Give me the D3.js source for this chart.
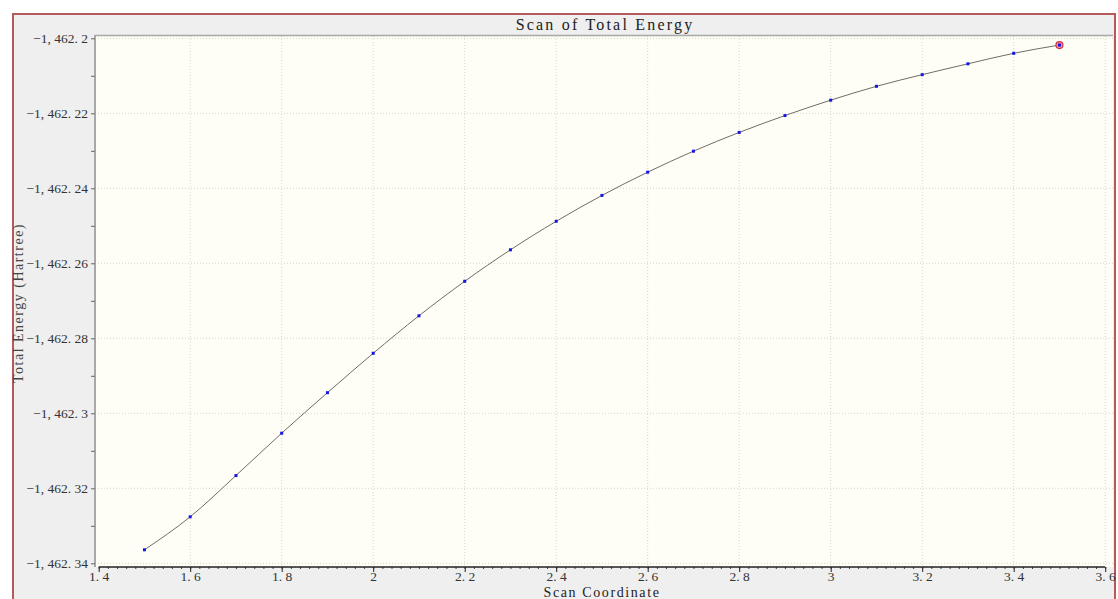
<!DOCTYPE html>
<html>
<head>
<meta charset="utf-8">
<script src="https://cdn.jsdelivr.net/npm/d3@7"></script>
<style>
body { margin: 0; background: #fff; }
svg { display: block; }
</style>
</head>
<body>
<div id="graph"></div>
<script>
// scan coordinate vs total energy (Hartree)
var scan_x = [1.5, 1.6, 1.7, 1.8, 1.9, 2.0, 2.1, 2.2, 2.3, 2.4, 2.5, 2.6, 2.7, 2.8, 2.9, 3.0, 3.1, 3.2, 3.3, 3.4, 3.5];
var energy = [-1462.3364, -1462.3276, -1462.3166, -1462.3053, -1462.2945, -1462.2840, -1462.2740, -1462.2648,
              -1462.2564, -1462.2488, -1462.2419, -1462.2357, -1462.2301, -1462.2251, -1462.2206, -1462.2165,
              -1462.2128, -1462.2097, -1462.2068, -1462.2040, -1462.2018];
var x_ticks = [1.4, 1.6, 1.8, 2.0, 2.2, 2.4, 2.6, 2.8, 3.0, 3.2, 3.4, 3.6];
var x_tick_labels = ["1. 4", "1. 6", "1. 8", "2", "2. 2", "2. 4", "2. 6", "2. 8", "3", "3. 2", "3. 4", "3. 6"];
var y_ticks = [-1462.2, -1462.22, -1462.24, -1462.26, -1462.28, -1462.3, -1462.32, -1462.34];
var y_tick_labels = ["\u22121, 462. 2", "\u22121, 462. 22", "\u22121, 462. 24", "\u22121, 462. 26",
                     "\u22121, 462. 28", "\u22121, 462. 3", "\u22121, 462. 32", "\u22121, 462. 34"];
var chart_title = "Scan of Total Energy";
var x_title = "Scan Coordinate";
var y_title = "Total Energy (Hartree)";

var width = 1118, height = 599;
var serif = "'Liberation Serif', 'DejaVu Serif', serif";

var graph = d3.select('#graph')
		.append('svg')
		.attr('width', width)
		.attr('height', height);

// outer frame
graph.append('rect')
	.attr('x', 13).attr('y', 14)
	.attr('width', 1102).attr('height', 600)
	.attr('style', 'fill:#efefef;stroke:#b45a5a;stroke-width:2');

// plot area
var plot = {left: 95, top: 36, right: 1113, bottom: 567};
graph.append('rect')
	.attr('x', plot.left).attr('y', plot.top)
	.attr('width', plot.right - plot.left).attr('height', plot.bottom - plot.top)
	.attr('style', 'fill:#fefef6');

var x = d3.scaleLinear().domain([1.4, 3.6]).range([98.7, 1105.2]);
var y = d3.scaleLinear().domain([-1462.34, -1462.2]).range([563.3, 38.3]);

// grid
for (var i = 1; i < x_ticks.length; i++)
{
	graph.append('line')
		.attr('x1', x(x_ticks[i])).attr('x2', x(x_ticks[i]))
		.attr('y1', plot.top).attr('y2', plot.bottom)
		.attr('style', 'stroke:#d6d6d0;stroke-width:1;stroke-dasharray:1,2');
}
for (var i = 0; i < y_ticks.length; i++)
{
	graph.append('line')
		.attr('x1', plot.left).attr('x2', plot.right)
		.attr('y1', y(y_ticks[i])).attr('y2', y(y_ticks[i]))
		.attr('style', 'stroke:#d6d6d0;stroke-width:1;stroke-dasharray:1,2');
}

// top border of plot, y axis line
graph.append('line')
	.attr('x1', plot.left).attr('x2', plot.right)
	.attr('y1', plot.top - 0.5).attr('y2', plot.top - 0.5)
	.attr('style', 'stroke:#a8a8a8;stroke-width:1.5');
graph.append('line')
	.attr('x1', plot.left).attr('x2', plot.left)
	.attr('y1', plot.top - 1).attr('y2', plot.bottom)
	.attr('style', 'stroke:#a8a8a8;stroke-width:2');

// y axis ticks + labels
var yAxis = d3.axisLeft(y)
	.tickValues(d3.range(0, 15).map(function(d) { return -1462.34 + d * 0.01; }))
	.tickSize(4)
	.tickFormat(function(d, i) { return i % 2 == 0 ? y_tick_labels[y_ticks.length - 1 - i / 2] : ""; });
var gy = graph.append('g')
	.attr('transform', 'translate(' + plot.left + ',0)')
	.call(yAxis);
gy.select('.domain').remove();
gy.selectAll('line').attr('stroke', '#666');
gy.selectAll('text')
	.attr('x', -7)
	.attr('fill', '#333')
	.style('font-family', serif)
	.style('font-size', '13.5px');

// x axis
var xAxis = d3.axisBottom(x)
	.tickValues(d3.range(0, 111).map(function(d) { return 1.4 + d * 0.02; }))
	.tickSize(2)
	.tickFormat("");
var gx = graph.append('g')
	.attr('transform', 'translate(0,' + plot.bottom + ')')
	.call(xAxis);
gx.select('.domain').remove();
gx.selectAll('line').attr('stroke', '#444');
graph.append('line')
	.attr('x1', x(1.4)).attr('x2', x(3.6))
	.attr('y1', plot.bottom).attr('y2', plot.bottom)
	.attr('style', 'stroke:#222;stroke-width:1.5');
var gx2 = graph.append('g')
	.attr('transform', 'translate(0,' + plot.bottom + ')')
	.call(d3.axisBottom(x).tickValues(x_ticks).tickSize(5)
		.tickFormat(function(d, i) { return x_tick_labels[i]; }));
gx2.select('.domain').remove();
gx2.selectAll('line').attr('stroke', '#222');
gx2.selectAll('text')
	.attr('y', 4)
	.attr('fill', '#333')
	.style('font-family', serif)
	.style('font-size', '13.5px');

// titles
graph.append('text')
	.attr('x', 605).attr('y', 30)
	.attr('text-anchor', 'middle')
	.attr('fill', '#222')
	.style('font-family', serif)
	.style('font-size', '16px')
	.style('letter-spacing', '2.2px')
	.text(chart_title);
graph.append('text')
	.attr('x', 602).attr('y', 597)
	.attr('text-anchor', 'middle')
	.attr('fill', '#222')
	.style('font-family', serif)
	.style('font-size', '14px')
	.style('letter-spacing', '1.6px')
	.text(x_title);
graph.append('text')
	.attr('transform', 'translate(23,303) rotate(-90)')
	.attr('text-anchor', 'middle')
	.attr('fill', '#444')
	.style('font-family', serif)
	.style('font-size', '14px')
	.style('letter-spacing', '1.5px')
	.text(y_title);

// curve
var pts = scan_x.map(function(d, i) { return [d, energy[i]]; });
var line = d3.line()
	.x(function(d) { return x(d[0]); })
	.y(function(d) { return y(d[1]); })
	.curve(d3.curveMonotoneX);
graph.append('path')
	.attr('d', line(pts))
	.attr('style', 'fill:none;stroke:#6e6e66;stroke-width:1');

// highlight last point
var last = pts[pts.length - 1];
graph.append('circle')
	.attr('cx', x(last[0])).attr('cy', y(last[1]))
	.attr('r', 3.5)
	.attr('style', 'fill:#e89aa8;stroke:#d83040;stroke-width:1.2');

graph.selectAll('rect.pt')
	.data(pts)
	.enter()
	.append('rect')
	.attr('class', 'pt')
	.attr('width', 3).attr('height', 3)
	.attr('x', function(d) { return x(d[0]) - 1.5; })
	.attr('y', function(d) { return y(d[1]) - 1.5; })
	.attr('style', 'fill:#1414e6');
</script>
</body>
</html>
